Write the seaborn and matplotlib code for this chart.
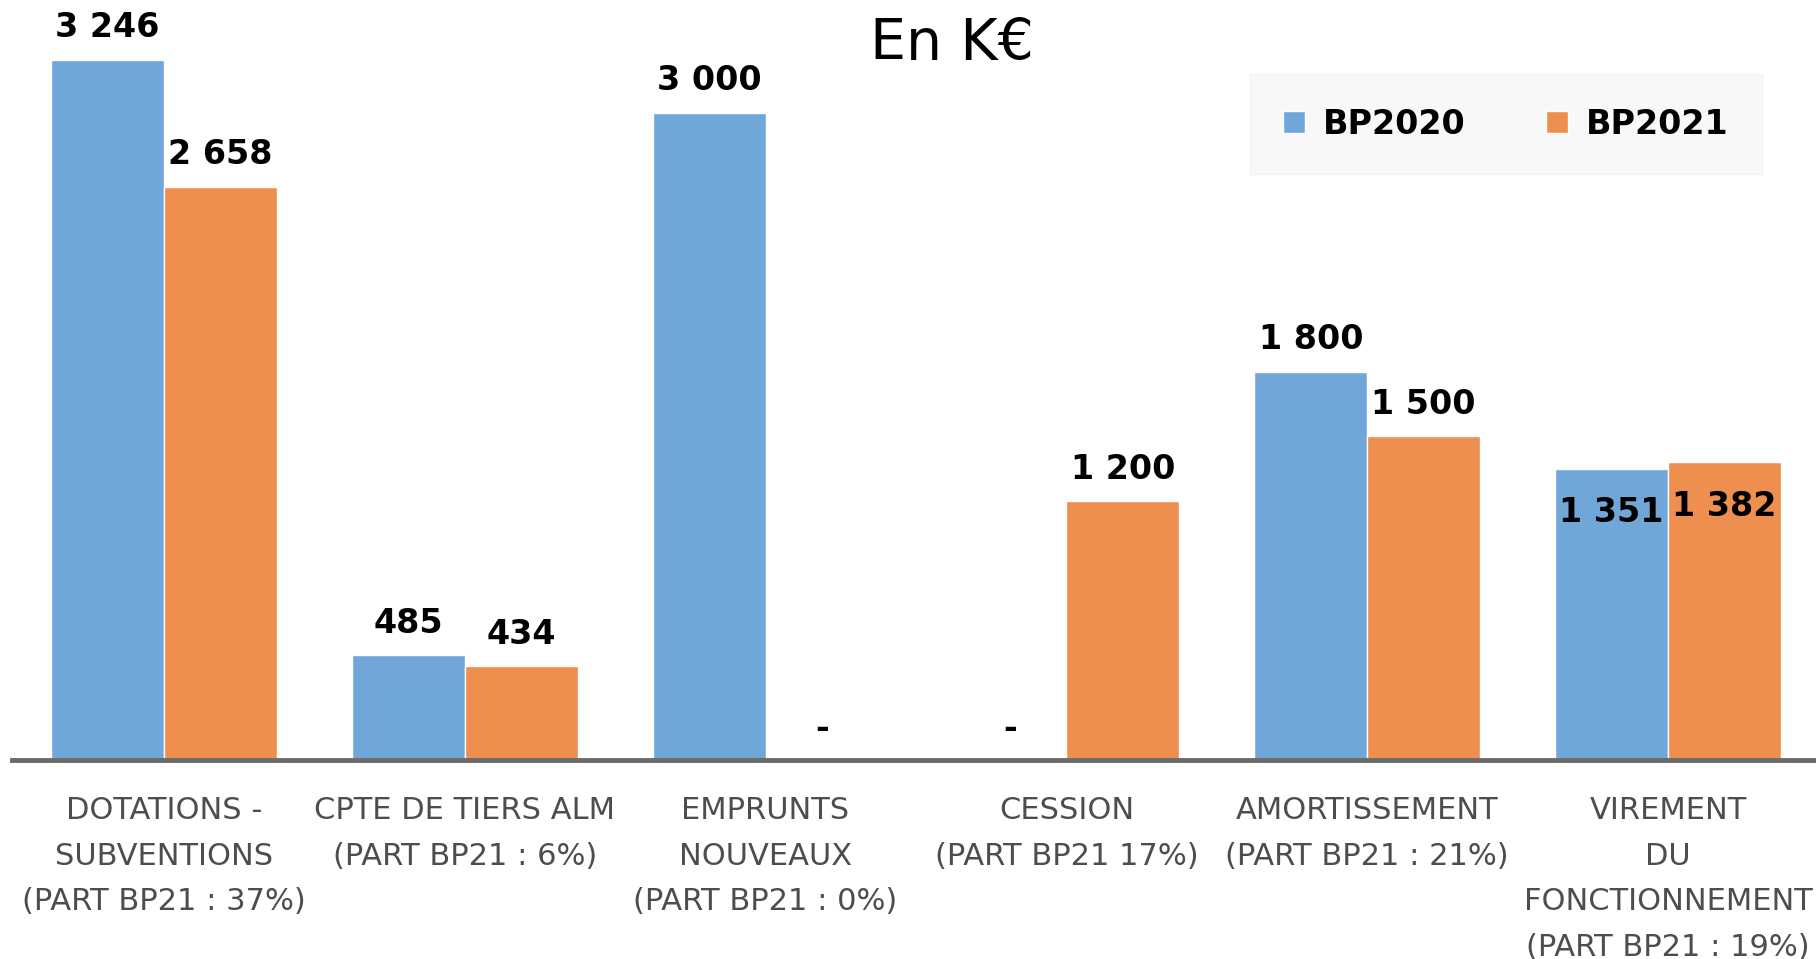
"""Budget chart: BP2020 vs BP2021 investment revenues (K€)."""

import matplotlib.pyplot as plt
import pandas as pd
import seaborn as sns

categories = [
    "DOTATIONS -\nSUBVENTIONS\n(PART BP21 : 37%)",
    "CPTE DE TIERS ALM\n(PART BP21 : 6%)",
    "EMPRUNTS\nNOUVEAUX\n(PART BP21 : 0%)",
    "CESSION\n(PART BP21 17%)",
    "AMORTISSEMENT\n(PART BP21 : 21%)",
    "VIREMENT\nDU\nFONCTIONNEMENT\n(PART BP21 : 19%)",
]
bp2020 = [3246, 485, 3000, 0, 1800, 1351]
bp2021 = [2658, 434, 0, 1200, 1500, 1382]
series = ["BP2020", "BP2021"]
inside_labels = [categories[5]]

colors = ["#70A7D8", "#EE8E4F"]

df = pd.DataFrame({
    "categorie": categories * 2,
    "serie": [series[0]] * len(categories) + [series[1]] * len(categories),
    "valeur": bp2020 + bp2021,
})

sns.set_style("white")
plt.rcParams["font.family"] = ["DejaVu Sans"]

fig = plt.figure(figsize=(18.16, 9.59), dpi=100)
ax = fig.add_axes([12 / 1816, 199 / 959, 1 - 12 / 1816, 760 / 959])

sns.barplot(data=df, x="categorie", y="valeur", hue="serie", order=categories,
            hue_order=series, palette=colors, width=0.75, saturation=1,
            ax=ax, legend=True)

ax.set_xlim(-0.505, 5.492)
ax.set_ylim(0, 3523)


def fmt(v):
    return "-" if v == 0 else f"{v:,.0f}".replace(",", " ")


# value labels
for container, values in zip(ax.containers, [bp2020, bp2021]):
    for patch, cat, v in zip(container.patches, categories, values):
        x = patch.get_x() + patch.get_width() / 2
        h = patch.get_height()
        off = -32 if cat in inside_labels else 23
        ax.annotate(fmt(v), xy=(x, h), xytext=(0, off), textcoords="offset points",
                    ha="center", va="center", fontsize=24, fontweight="bold",
                    color="black", annotation_clip=False)

ax.set_xlabel("")
ax.set_ylabel("")
ax.set_yticks([])
ax.tick_params(axis="x", length=0, pad=26)
for lbl in ax.get_xticklabels():
    lbl.set_fontsize(22)
    lbl.set_color("#4d4d4d")
    lbl.set_linespacing(1.72)

for side in ["left", "right", "top"]:
    ax.spines[side].set_visible(False)
ax.spines["bottom"].set_color("#6b6b6b")
ax.spines["bottom"].set_linewidth(3.5)

leg = ax.legend(loc="center", bbox_to_anchor=(1506 / 1816, 1 - 124 / 959),
                bbox_transform=fig.transFigure, ncol=2, frameon=True,
                fancybox=False, prop={"size": 24, "weight": "bold"},
                handlelength=0.65, handleheight=0.65, handletextpad=0.55,
                columnspacing=2.4, borderpad=1.0)
leg.get_frame().set_facecolor("#F7F7F7")
leg.get_frame().set_edgecolor("#F2F2F2")
for t in leg.get_texts():
    t.set_color("black")

fig.text(952 / 1816, 1 - 44 / 959, "En K€", ha="center", va="center",
         fontsize=41, color="black")

fig.savefig("out.png", dpi=100)
plt.close(fig)
